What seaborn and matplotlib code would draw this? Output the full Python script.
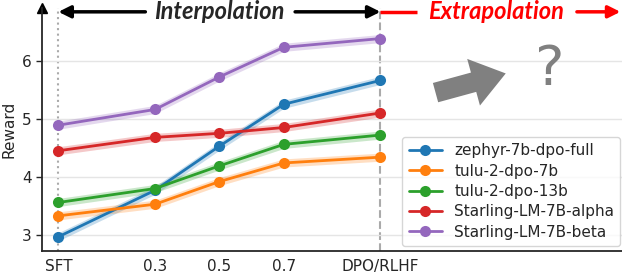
import matplotlib
matplotlib.use("Agg")
import matplotlib.pyplot as plt
import seaborn as sns
import numpy as np
import pandas as pd

stages = ["SFT", "0.3", "0.5", "0.7", "DPO/RLHF"]
stage_pos = [0.0, 0.3, 0.5, 0.7, 1.0]
models = ["zephyr-7b-dpo-full", "tulu-2-dpo-7b", "tulu-2-dpo-13b",
          "Starling-LM-7B-alpha", "Starling-LM-7B-beta"]
zephyr = [2.97, 3.77, 4.53, 5.25, 5.66]
tulu7 = [3.33, 3.53, 3.92, 4.24, 4.34]
tulu13 = [3.56, 3.80, 4.19, 4.56, 4.72]
star_a = [4.45, 4.68, 4.75, 4.85, 5.10]
star_b = [4.89, 5.16, 5.72, 6.23, 6.38]
band = 0.07
colors = ["#1f77b4", "#ff7f0e", "#2ca02c", "#d62728", "#9467bd"]

series = [zephyr, tulu7, tulu13, star_a, star_b]
rows = []
for m, vals in zip(models, series):
    for p, v in zip(stage_pos, vals):
        rows.append({"model": m, "pos": p, "reward": v})
df = pd.DataFrame(rows)

sns.set_style("white")
plt.rcParams['font.family'] = ['DejaVu Sans']
fig, ax = plt.subplots(figsize=(6.22, 2.77), dpi=100)
fig.subplots_adjust(left=0.068, right=1.0, bottom=0.094, top=0.972)

for m, vals, c in zip(models, series, colors):
    v = np.array(vals)
    ax.fill_between(stage_pos, v - band, v + band, color=c, alpha=0.25, lw=0)
sns.lineplot(data=df, x="pos", y="reward", hue="model", hue_order=models,
             palette=colors, marker="o", markersize=8, markeredgewidth=0,
             linewidth=2, ax=ax, legend=True)

ax.set_xlim(-0.05, 1.75)
ax.set_ylim(2.726, 6.91)
ax.set_xticks(stage_pos)
ax.set_xticklabels(stages, fontsize=11)
ax.set_yticks([3, 4, 5, 6])
ax.tick_params(axis="y", labelsize=11, length=4, width=1, left=True)
ax.tick_params(axis="x", length=0, pad=6)
ax.set_xlabel("")
ax.set_ylabel("Reward", fontsize=11)
ax.yaxis.grid(True, color="#e5e5e5", lw=1)
ax.set_axisbelow(True)
for s in ["top", "right"]:
    ax.spines[s].set_visible(False)
ax.spines["left"].set_linewidth(1.3)
ax.spines["bottom"].set_linewidth(1.3)
ax.plot(0, 1, "^k", transform=ax.transAxes, clip_on=False, markersize=7)

ax.axvline(0, color="#aaaaaa", ls=":", lw=1.5, zorder=0)
ax.axvline(1.0, color="#aaaaaa", ls="--", lw=1.5, zorder=0)

ytop = 6.84
ax.annotate("", xy=(0.0, ytop), xytext=(0.27, ytop),
            arrowprops=dict(arrowstyle="-|>", color="black", lw=2.5, mutation_scale=18,
                            shrinkA=0, shrinkB=0),
            annotation_clip=False)
ax.annotate("", xy=(1.0, ytop), xytext=(0.735, ytop),
            arrowprops=dict(arrowstyle="-|>", color="black", lw=2.5, mutation_scale=18,
                            shrinkA=0, shrinkB=0),
            annotation_clip=False)
ax.text(0.5, ytop, "Interpolation", ha="center", va="center", fontsize=17,
        fontweight="bold", fontstyle="italic", family=["Lato", "DejaVu Sans"])
ax.plot([1.0, 1.115], [ytop, ytop], color="red", lw=2.5, solid_capstyle="butt")
ax.annotate("", xy=(1.745, ytop), xytext=(1.61, ytop),
            arrowprops=dict(arrowstyle="-|>", color="red", lw=2.5, mutation_scale=18,
                            shrinkA=0, shrinkB=0),
            annotation_clip=False)
ax.text(1.36, ytop, "Extrapolation", ha="center", va="center", fontsize=17,
        fontweight="bold", fontstyle="italic", color="red",
        family=["Lato", "DejaVu Sans"])

ax.annotate("", xy=(1.389, 5.78), xytext=(1.171, 5.45),
            arrowprops=dict(arrowstyle="simple,head_length=1.0,head_width=1.45,tail_width=0.6",
                            color="gray", mutation_scale=24, lw=0, shrinkA=0, shrinkB=0))
ax.text(1.526, 5.84, "?", ha="center", va="center", fontsize=40, color="gray",
        family=["DejaVu Sans"])

leg = ax.legend(loc="lower right", fontsize=11, frameon=True,
                bbox_to_anchor=(1.0, 0.015), borderaxespad=0.1,
                handlelength=2.2, labelspacing=0.35)
leg.get_frame().set_edgecolor("#cccccc")

fig.savefig("out.png", dpi=100)
